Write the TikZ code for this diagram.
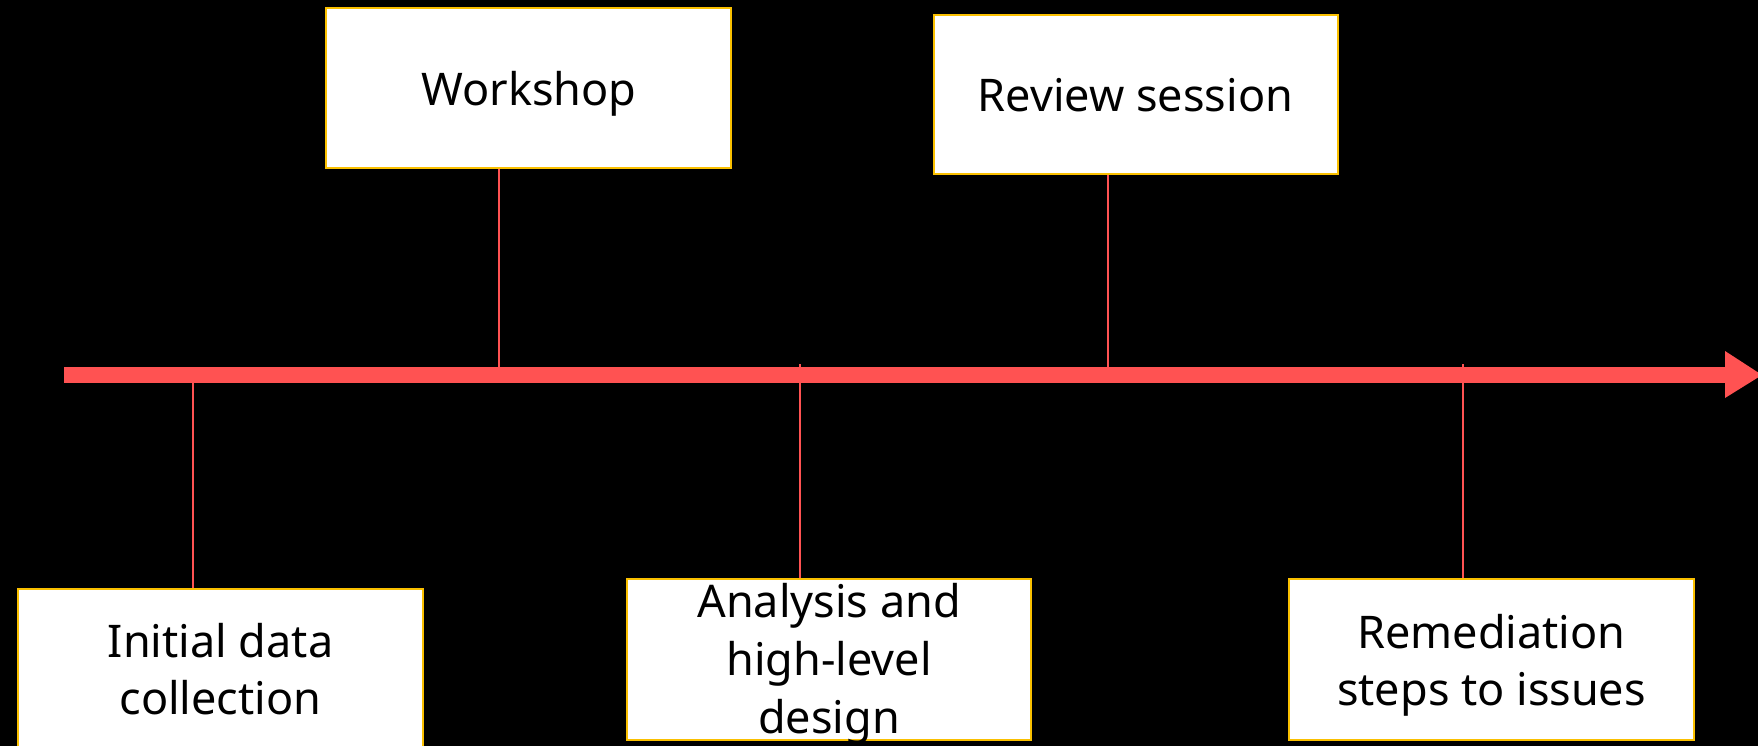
\documentclass[tikz,border=0pt]{standalone}
\usepackage{fontspec}
\setmainfont{Noto Sans}
\definecolor{tlred}{RGB}{255,82,82}
\definecolor{boxgold}{RGB}{250,192,0}
\begin{document}
\begin{tikzpicture}[x=1pt,y=-1pt,
  stagebox/.style={draw=boxgold, line width=2.5pt, fill=white, inner sep=0pt, rectangle},
  txt/.style={font=\fontsize{45}{58}\selectfont, text=black, inner sep=0pt, anchor=base},
  conn/.style={draw=tlred, line width=2pt}]
\useasboundingbox (0,0) rectangle (1758,746);
\fill[black] (0,0) rectangle (1758,746);
% boxes
\node[stagebox, minimum width=405pt, minimum height=160pt] (work) at (528.5,88) {};
\node[stagebox, minimum width=404pt, minimum height=159pt] (rev) at (1136,94.5) {};
\node[stagebox, minimum width=405pt, minimum height=161pt] (init) at (220.5,669.5) {};
\node[stagebox, minimum width=404pt, minimum height=161pt] (ana) at (829,659.5) {};
\node[stagebox, minimum width=405pt, minimum height=161pt] (rem) at (1491.5,659.5) {};
% texts
\node[txt] (t1) at (529,106) {Workshop};
\node[txt] (t2) at (1135.5,112) {Review session};
\node[txt] (t3) at (220.5,657) {Initial data};
\node[txt] (t4) at (220.5,714) {collection};
\node[txt] (t5) at (829,617) {Analysis and};
\node[txt] (t6) at (829,675) {high-level};
\node[txt] (t7) at (829,733) {design};
\node[txt] (t8) at (1491.5,648) {Remediation};
\node[txt] (t9) at (1491.5,705) {steps to issues};
% axis coordinates
\coordinate (axstart) at (64,375);
\coordinate (axend) at (1762,375);
\coordinate (pw) at (499,367);
\coordinate (pr) at (1108,367);
\coordinate (pi) at (193,383);
\coordinate (pa) at (800,364);
\coordinate (pm) at (1463,364);
% connectors
\draw[conn] (work.south -| pw) -- (pw);
\draw[conn] (rev.south -| pr) -- (pr);
\draw[conn] (pi) -- (init.north -| pi);
\draw[conn] (pa) -- (ana.north -| pa);
\draw[conn] (pm) -- (rem.north -| pm);
% timeline arrow
\fill[tlred] (64,367) rectangle (1726,383);
\fill[tlred] (1725,351) -- (axend) -- (1725,398) -- cycle;
\end{tikzpicture}
\end{document}
